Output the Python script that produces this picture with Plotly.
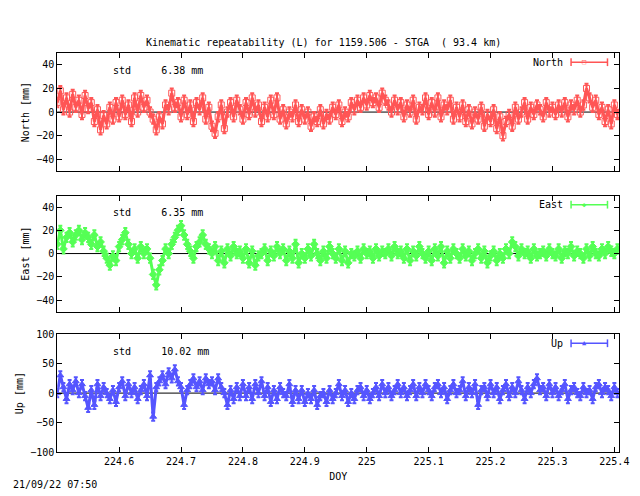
import numpy as np
import plotly.graph_objects as go

# DOY samples every 0.005 day
doy = np.round(np.arange(182) * 0.005 + 224.5, 3)

north = [8, 18, 2, 12, 0, 15, 4, 10, -2, 14,
         3, 8, -8, 2, -15, -3, -10, 4, -6, 8,
         -4, 10, -2, 6, -8, 12, 0, 14, 4, 10,
         0, -6, -15, -4, -10, 6, 2, 16, 4, 8,
         -4, 10, -2, 6, -8, 8, 2, 12, -6, 4,
         -12, -18, -4, 6, -14, 0, 8, -4, 10, 2,
         -6, 8, -2, 12, 0, 6, -8, 4, -4, 10,
         -2, 12, -6, 2, -10, 0, -4, 6, -8, 2,
         -6, 0, -12, -4, -8, 2, -10, -2, -6, 4,
         -2, 6, -8, 0, -4, 8, 2, 10, 4, 12,
         6, 14, 8, 12, 4, 16, 10, 6, 0, 10,
         2, 8, -4, 6, 0, 10, -6, 4, 2, 12,
         -2, 8, 0, 12, -4, 6, 2, 10, -6, 4,
         -4, 6, -8, 2, -10, 0, -6, 4, -12, -2,
         -8, 2, -14, -4, -20, -8, -2, -12, 4, -6,
         0, 8, -6, 4, -2, 6, 2, -4, 8, 0,
         4, -2, 6, 0, 8, -4, 6, 2, 10, 0,
         6, 20, 12, 4, 10, -2, 4, -8, 2, -10,
         6, -2]

east = [8, 20, 4, 14, 18, 10, 16, 20, 12, 18,
        14, 8, 16, 6, 10, 2, -4, -10, -2, -6,
        6, 12, 18, 8, 0, 4, -4, 6, 0, 4,
        -4, -18, -27, -14, -6, 4, 0, 8, 14, 20,
        24, 16, 8, 2, -4, 6, 10, 16, 8, 4,
        0, 6, -6, 2, -8, 4, -2, 6, 0, 2,
        -4, 4, -8, 2, -10, -2, 0, 4, -6, 2,
        -2, 6, 0, 4, -6, 2, -4, 8, -8, 0,
        -4, 4, -2, 8, 0, -6, 2, -4, 6, 0,
        -4, 4, -6, 2, -8, 0, -2, 2, -4, 4,
        0, 2, -4, 4, -2, 2, 0, 4, -2, 6,
        0, 2, -4, 4, -6, 2, -2, 6, 0, -4,
        2, -6, 4, -2, 6, -8, 2, -4, 4, 0,
        -4, 4, -2, 2, -6, 0, 4, -4, 2, -8,
        -2, 2, -6, 0, -4, 4, 0, 10, 6, -2,
        4, 0, 2, -4, 4, -2, 0, 2, -2, 4,
        0, -2, 4, -4, 2, 0, 6, -2, 2, 0,
        -4, 4, -2, 6, 0, -2, 4, 0, 6, 2,
        0, 4]

up = [0, 30, 10, -10, 15, 5, 20, 0, 15, -5,
      -25, 5, -20, 15, -5, 10, 0, -10, 5, -15,
      10, 20, -5, 15, 0, 10, -10, 5, 15, -5,
      30, -40, 10, 20, 30, 15, 35, 25, 40, 20,
      10, -20, 5, 15, 25, 10, 20, 5, 25, 15,
      20, 5, 25, 10, 0, -20, 5, -10, 10, -5,
      15, -5, 10, -10, 15, 0, 20, -5, 10, -15,
      5, -10, 10, 0, -5, 15, -15, 5, -10, 5,
      -15, 0, -10, 5, -20, -5, 0, -15, 5, -10,
      0, 15, -5, 5, -15, 0, -10, 5, 10, -5,
      5, -10, 0, 10, -5, 15, 0, 10, -5, 5,
      15, 0, 10, -5, 5, 15, -5, 10, 0, 15,
      5, -5, 10, 15, 0, 10, -10, 5, 15, 0,
      5, 20, -5, 10, 0, 15, -20, 5, 10, -5,
      15, 0, 10, -10, 5, 15, -5, 10, 0, 20,
      5, -10, 10, 0, 15, 25, 5, 10, -5, 15,
      0, 10, -5, 5, 15, -10, 5, 10, 0, -5,
      10, 0, 5, -10, 10, 15, 0, 10, 5, -5,
      10, 0]

stds = ['6.38', '6.35', '10.02']
names = ['North', 'East', 'Up']
errs = [4, 4, 7]
colors = ['#ff5555', '#55ff55', '#5555ff']
symbols = ['square-open', 'diamond', 'triangle-up']
glyphs = ['\u25a1', '\u25c6', '\u25b2']
series = [north, east, up]
yranges = [[-50, 50], [-50, 50], [-100, 100]]
ytickvals = [[-40, -20, 0, 20, 40], [-40, -20, 0, 20, 40], [-100, -50, 0, 50, 100]]
ylabels = ['North [mm]', 'East [mm]', 'Up [mm]']

H = 496
domains = [[1 - 161 / H, 1 - 40 / H], [1 - 305 / H, 1 - 186 / H], [1 - 449 / H, 1 - 328 / H]]
xdom = [50 / 640, 621 / 640]
font = 'DejaVu Sans Mono'

fig = go.Figure()
for i in range(3):
    ax = '' if i == 0 else str(i + 1)
    fig.add_trace(go.Scatter(
        x=doy, y=series[i], mode='lines+markers',
        line=dict(color=colors[i], width=3),
        marker=dict(symbol=symbols[i], size=6, color=colors[i], line=dict(width=1, color=colors[i])),
        error_y=dict(type='constant', value=errs[i], color=colors[i], thickness=2, width=2),
        xaxis='x' + ax, yaxis='y' + ax, showlegend=False))
    # zero line
    fig.add_shape(type='line', xref='x' + ax + ' domain', yref='y' + ax,
                  x0=0, x1=1, y0=0, y1=0, line=dict(color='black', width=1), layer='below')
    top = domains[i][1]
    fig.add_annotation(text='std     %s mm' % stds[i], xref='paper', yref='paper',
                       x=105 / 640, y=top - 0.02, xanchor='left', yanchor='top', showarrow=False,
                       font=dict(family=font, size=10, color='black'))
    yl = top - 0.019
    fig.add_annotation(text=names[i], xref='paper', yref='paper',
                       x=566 / 640, y=yl, xanchor='right', yanchor='middle', showarrow=False,
                       font=dict(family=font, size=10, color='black'))
    fig.add_shape(type='line', xref='paper', yref='paper', x0=572 / 640, x1=609 / 640,
                  y0=yl, y1=yl, line=dict(color=colors[i], width=1.5))
    for xe in (572, 609):
        fig.add_shape(type='line', xref='paper', yref='paper', x0=xe / 640, x1=xe / 640,
                      y0=yl - 0.008, y1=yl + 0.008, line=dict(color=colors[i], width=1.5))
    fig.add_annotation(text=glyphs[i], xref='paper', yref='paper', x=590 / 640, y=yl,
                       yanchor='middle', showarrow=False, font=dict(size=7, color=colors[i]))

axis_common = dict(showgrid=False, zeroline=False, showline=True, linecolor='black', linewidth=1,
                   mirror='ticks', ticks='inside', ticklen=5, tickcolor='black',
                   tickfont=dict(family=font, size=10, color='black'))
layout = dict(width=640, height=496, plot_bgcolor='white', paper_bgcolor='white',
              margin=dict(l=0, r=0, t=0, b=0), showlegend=False,
              font=dict(family=font, size=10, color='black'))
for i in range(3):
    ax = '' if i == 0 else str(i + 1)
    layout['xaxis' + ax] = dict(axis_common, domain=xdom, range=[224.5, 225.408],
                                anchor='y' + ax, tickvals=[224.6, 224.7, 224.8, 224.9, 225, 225.1, 225.2, 225.3, 225.4],
                                ticktext=['224.6', '224.7', '224.8', '224.9', '225', '225.1', '225.2', '225.3', '225.4'],
                                showticklabels=(i == 2))
    layout['yaxis' + ax] = dict(axis_common, domain=domains[i], range=yranges[i], anchor='x' + ax,
                                tickvals=ytickvals[i],
                                title=dict(text=ylabels[i], font=dict(family=font, size=10, color='black'), standoff=4))
layout['xaxis3']['title'] = dict(text='DOY', font=dict(family=font, size=10, color='black'), standoff=6)
fig.update_layout(**layout)

fig.add_annotation(text='Kinematic repeatability (L) for 1159.506 - STGA  ( 93.4 km)',
                   xref='paper', yref='paper', x=0.5, y=1 - 22 / H, showarrow=False,
                   font=dict(family=font, size=10, color='black'))
fig.add_annotation(text='21/09/22 07:50', xref='paper', yref='paper', x=0.005, y=1 - 490 / H,
                   xanchor='left', showarrow=False, font=dict(family=font, size=10, color='black'))

fig.write_html('out.html')
